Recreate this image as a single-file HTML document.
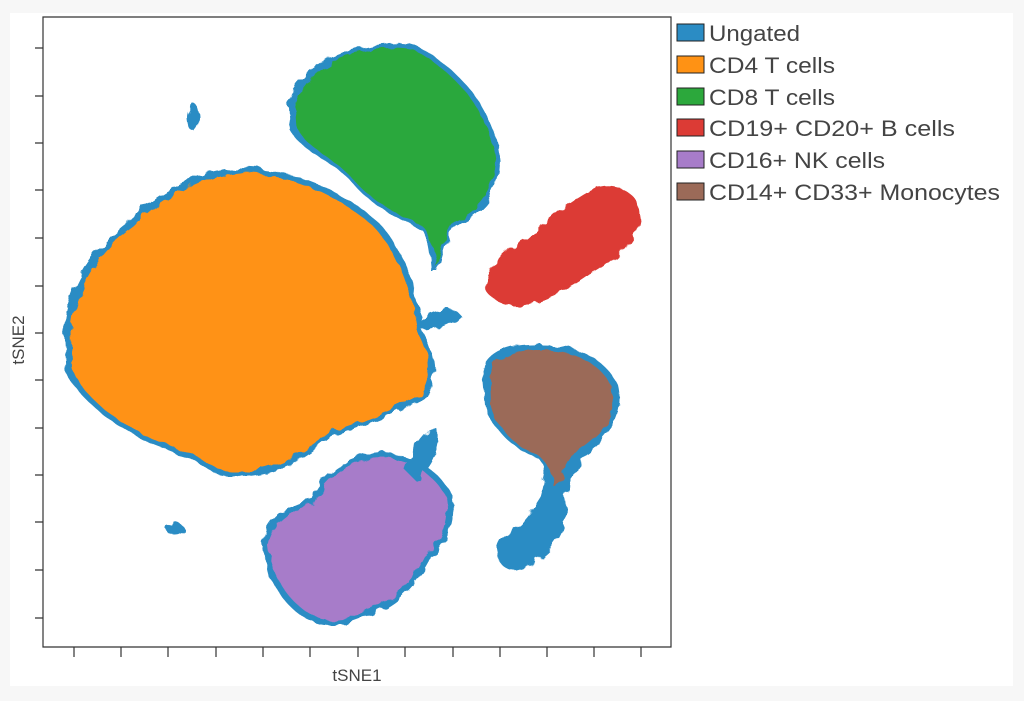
<!DOCTYPE html>
<html><head><style>
body{margin:0;background:#f7f7f7;width:1024px;height:701px;overflow:hidden;font-family:"Liberation Sans",sans-serif;}
</style></head><body>
<svg width="1024" height="701" xmlns="http://www.w3.org/2000/svg" style="position:absolute;left:0;top:0">
<rect x="10" y="13" width="1003" height="673" fill="#fff"/>
<defs>
<filter id="rough" x="-10%" y="-10%" width="120%" height="120%">
<feTurbulence type="fractalNoise" baseFrequency="0.08" numOctaves="2" seed="3"/>
<feDisplacementMap in="SourceGraphic" scale="9"/>
</filter>
</defs>
<g filter="url(#rough)">
<path d="M64,330 C66,290 92,248 128,222 C158,190 200,170 240,168 C292,168 342,190 378,222 C404,250 418,290 422,330 C434,350 440,375 427,397 C402,412 362,427 332,437 C302,463 262,485 215,474 C195,459 175,453 150,443 C108,423 78,397 66,372 Z" fill="#2b8cc4"/>
<path d="M71,330 C74,292 97,252 133,226 C163,196 203,176 240,173 C288,173 337,194 373,226 C398,252 412,292 417,330 C430,352 434,372 422,393 C398,408 360,422 330,432 C300,457 263,479 218,469 C198,455 178,449 152,439 C112,419 81,394 72,368 Z" fill="#ff9214"/>
<path d="M288,100 C300,70 330,55 360,48 C390,40 410,42 420,48 C460,70 495,110 500,160 C500,195 480,215 455,225 C445,240 442,260 438,272 L432,272 C430,250 428,235 420,228 C395,218 370,205 350,180 C330,160 300,150 290,130 Z" fill="#2b8cc4"/>
<path d="M295,102 C306,73 334,58 362,52 C390,45 408,46 418,52 C456,74 490,112 495,160 C495,192 477,212 453,221 C443,236 440,255 437,268 C434,248 430,232 420,224 C396,214 372,202 352,178 C334,158 306,148 297,128 Z" fill="#2ca83c"/>
<path d="M485,285 C490,265 505,250 525,240 C545,222 570,200 600,186 C620,182 640,195 640,215 C638,240 615,262 590,275 C570,290 545,300 525,305 C505,308 487,300 485,285 Z" fill="#dc3b35"/>
<path d="M482,370 C488,350 510,343 540,344 C575,344 605,358 618,385 C625,415 608,440 580,458 C572,475 570,490 560,505 L540,500 C545,480 548,468 540,460 C515,450 492,430 485,405 Z" fill="#2b8cc4"/>
<path d="M490,372 C496,354 515,350 540,350 C572,350 600,362 612,387 C618,414 602,436 576,452 C566,466 562,478 555,490 C552,472 548,462 538,456 C515,446 496,428 491,405 Z" fill="#9b6a58"/>
<path d="M545,490 C560,480 570,495 565,520 C560,545 540,565 510,570 C495,565 492,545 505,535 C525,525 535,505 545,490 Z" fill="#2b8cc4"/>
<path d="M262,545 C265,520 285,505 310,500 C320,475 345,455 380,452 C410,452 440,470 452,495 C458,520 448,545 430,560 C420,580 400,605 370,615 C345,628 320,630 300,615 C280,600 265,575 262,545 Z" fill="#2b8cc4"/>
<path d="M268,546 C272,523 290,510 313,505 C324,480 348,460 380,458 C408,458 435,474 446,497 C450,520 442,543 425,557 C415,577 396,600 368,610 C344,622 322,624 304,610 C285,596 271,573 268,546 Z" fill="#a77cc9"/>
<ellipse cx="193" cy="117" rx="6" ry="14" fill="#2b8cc4"/>
<ellipse cx="175" cy="529" rx="9" ry="6" fill="#2b8cc4"/>
<path d="M405,470 C415,440 430,425 438,430 C440,450 428,470 415,480 Z" fill="#2b8cc4"/>
<path d="M420,320 C435,310 455,305 460,315 C450,325 432,330 420,330 Z" fill="#2b8cc4"/>
</g>
<g stroke="#333" stroke-width="1.2" fill="none">
<path d="M43,17 L671,17 L671,647 L43,647 Z"/>
<path d="M35,48h8M35,96h8M35,143h8M35,190h8M35,238h8M35,286h8M35,333h8M35,380h8M35,428h8M35,475h8M35,522h8M35,570h8M35,618h8"/>
<path d="M74,647v10M121,647v10M168,647v10M216,647v10M263,647v10M310,647v10M358,647v10M405,647v10M453,647v10M500,647v10M547,647v10M594,647v10M641,647v10"/>
</g>
<text x="357" y="681" font-size="17" fill="#444" text-anchor="middle">tSNE1</text>
<text transform="translate(24,340) rotate(-90)" font-size="17" fill="#444" text-anchor="middle">tSNE2</text>
<g stroke="#222" stroke-width="1">
<rect x="677" y="24" width="27" height="17" fill="#2b8cc4"/>
<rect x="677" y="56" width="27" height="17" fill="#ff9214"/>
<rect x="677" y="88" width="27" height="17" fill="#2ca83c"/>
<rect x="677" y="119" width="27" height="17" fill="#dc3b35"/>
<rect x="677" y="151" width="27" height="17" fill="#a77cc9"/>
<rect x="677" y="183" width="27" height="17" fill="#9b6a58"/>
</g>
<g font-size="22" fill="#444" lengthAdjust="spacingAndGlyphs">
<text x="709" y="41" textLength="91" lengthAdjust="spacingAndGlyphs">Ungated</text>
<text x="709" y="73" textLength="126" lengthAdjust="spacingAndGlyphs">CD4 T cells</text>
<text x="709" y="105" textLength="126" lengthAdjust="spacingAndGlyphs">CD8 T cells</text>
<text x="709" y="136" textLength="246" lengthAdjust="spacingAndGlyphs">CD19+ CD20+ B cells</text>
<text x="709" y="168" textLength="176" lengthAdjust="spacingAndGlyphs">CD16+ NK cells</text>
<text x="709" y="200" textLength="291" lengthAdjust="spacingAndGlyphs">CD14+ CD33+ Monocytes</text>
</g>
</svg>
</body></html>
